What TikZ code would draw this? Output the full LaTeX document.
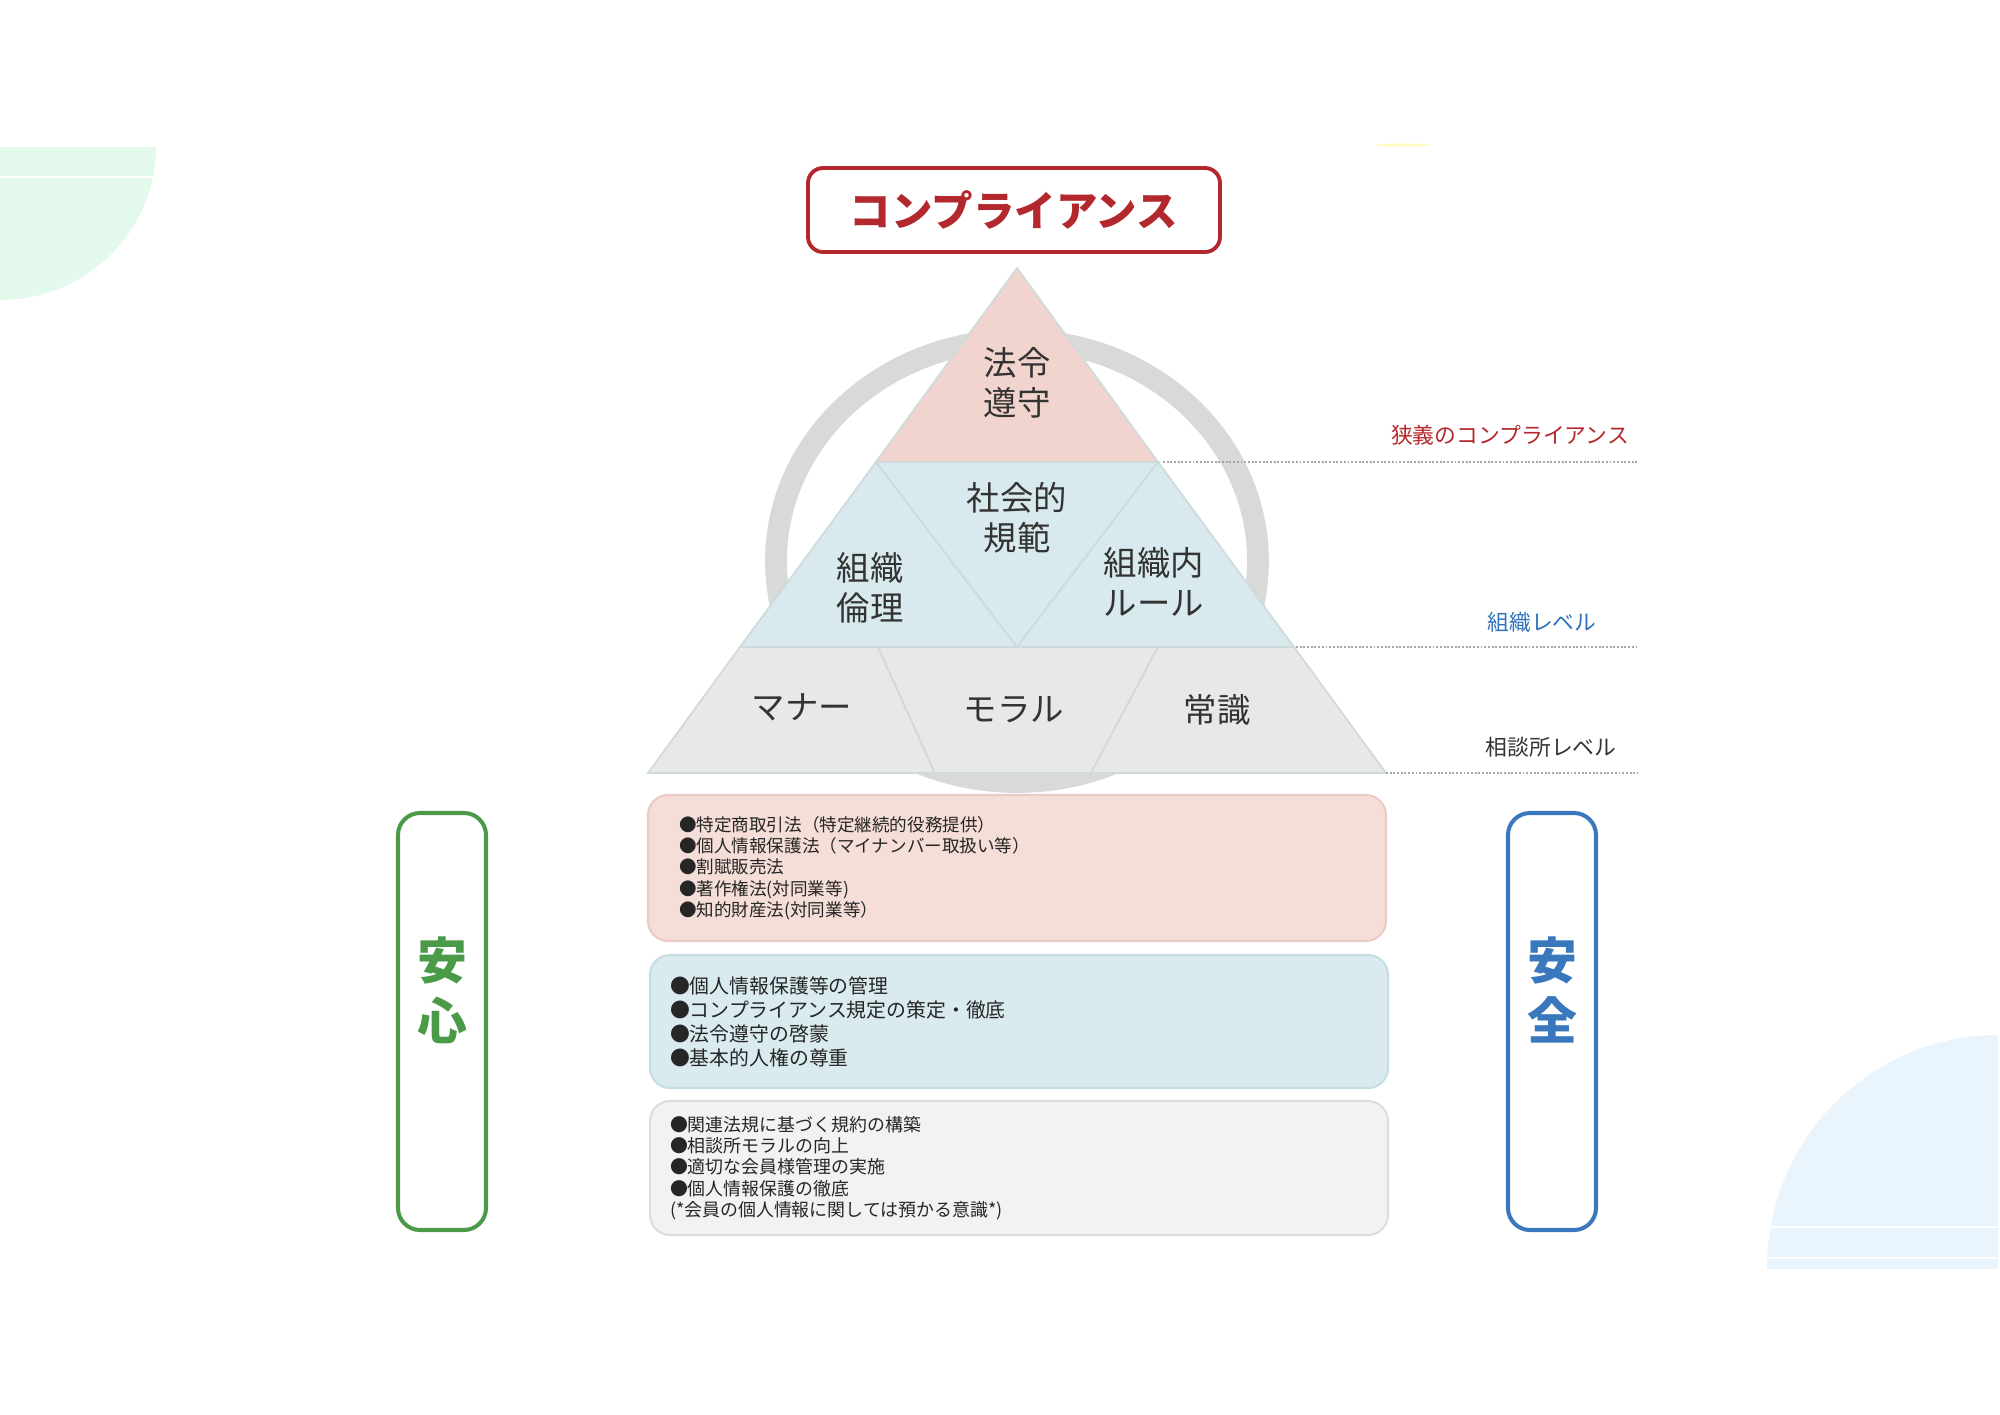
\documentclass[tikz,border=0pt]{standalone}
\usepackage{fontspec}
\setmainfont{Noto Sans CJK JP}
\definecolor{lawpink}{HTML}{F2D4CF}
\definecolor{orgblue}{HTML}{D8EAEE}
\definecolor{basegray}{HTML}{E8E8E8}
\definecolor{edgegray}{HTML}{CFDADC}
\definecolor{ringgray}{HTML}{D9D9D9}
\definecolor{titlered}{HTML}{B3282D}
\definecolor{ansgreen}{HTML}{4A9A48}
\definecolor{anzblue}{HTML}{3A78BE}
\definecolor{lvlblue}{HTML}{2E72BA}
\definecolor{txtgray}{HTML}{333333}
\definecolor{mint}{HTML}{E2F9EC}
\definecolor{sky}{HTML}{EAF4FD}
\definecolor{boxpink}{HTML}{F5DDD8}
\definecolor{boxpinkline}{HTML}{EDCBC5}
\definecolor{boxblue}{HTML}{DAEBEF}
\definecolor{boxblueline}{HTML}{C6DDE3}
\definecolor{boxgray}{HTML}{F2F2F2}
\definecolor{boxgrayline}{HTML}{DEDEDE}
\begin{document}
\begin{tikzpicture}[
  x = 1cm, y = -1cm,
  every node/.style = {inner sep = 0pt, align = center, text = txtgray,
    font = \fontsize{9.5}{11.4}\selectfont},
  piece/.style = {draw = edgegray, line width = 0.5pt},
  levelline/.style = {draw = black!35, line width = 0.6pt,
    dash pattern = on 0.55pt off 0.5pt},
  lvl/.style = {font = \fontsize{6.2}{7}\selectfont},
  infobox/.style = {draw, line width = 0.6pt, rounded corners = 0.2cm,
    inner xsep = 0.2cm, text width = 6.98cm, align = left, text = black!85},
  sidebox/.style = {draw, line width = 1.15pt, rounded corners = 0.22cm,
    minimum width = 0.88cm, minimum height = 4.17cm},
  sidetext/.style = {font = \fontsize{14.2}{17}\selectfont\bfseries}
  ]
  \useasboundingbox (0,0) rectangle (20,14.14);
  \begin{scope}
    \clip (0,1.47) rectangle (1.6,3.05);
    \fill[mint] (0,1.47) ellipse [x radius = 1.56cm, y radius = 1.53cm];
  \end{scope}
  \draw[white, line width = 0.8pt] (0,1.77) -- (1.6,1.77);
  \begin{scope}
    \clip (17.6,10.3) rectangle (19.98,12.68);
    \fill[sky] (19.98,12.68) ellipse [x radius = 2.31cm, y radius = 2.33cm];
  \end{scope}
  \draw[white, line width = 0.8pt] (17.6,12.27) -- (20,12.27);
  \draw[white, line width = 0.8pt] (17.6,12.58) -- (20,12.58);
  \fill[yellow, opacity = 0.25] (14.03,1.45) ellipse [x radius = 0.28cm, y radius = 0.015cm];

  \draw[ringgray, line width = 6.2pt] (10.17,5.61) ellipse [x radius = 2.41cm, y radius = 2.21cm];

  \coordinate (apex) at (10.17,2.68);
  \coordinate (ul) at (8.76,4.62);
  \coordinate (ur) at (11.58,4.62);
  \coordinate (ml) at (7.40,6.47);
  \coordinate (mc) at (10.17,6.47);
  \coordinate (mr) at (12.94,6.47);
  \coordinate (dl) at (8.78,6.47);
  \coordinate (dr) at (11.58,6.47);
  \coordinate (bl) at (6.48,7.73);
  \coordinate (el) at (9.35,7.73);
  \coordinate (er) at (10.91,7.73);
  \coordinate (br) at (13.86,7.73);
  \filldraw[piece, fill = lawpink] (apex) -- (ul) -- (ur) -- cycle;
  \filldraw[piece, fill = orgblue] (ul) -- (ml) -- (mc) -- cycle;
  \filldraw[piece, fill = orgblue] (ul) -- (ur) -- (mc) -- cycle;
  \filldraw[piece, fill = orgblue] (ur) -- (mc) -- (mr) -- cycle;
  \filldraw[piece, fill = basegray] (ml) -- (bl) -- (el) -- (dl) -- cycle;
  \filldraw[piece, fill = basegray] (dl) -- (el) -- (er) -- (dr) -- cycle;
  \filldraw[piece, fill = basegray] (dr) -- (er) -- (br) -- (mr) -- cycle;

  \node (hourei) at (10.17,3.83) {法令\\遵守};
  \node (shakai) at (10.17,5.18) {社会的\\規範};
  \node (rinri) at (8.70,5.88) {組織\\倫理};
  \node (rule) at (11.54,5.82) {組織内\\ルール};
  \node (manner) at (8.02,7.07) {マナー};
  \node (moral) at (10.14,7.10) {モラル};
  \node (joushiki) at (12.17,7.10) {常識};

  \node[draw = titlered, line width = 1.1pt, rounded corners = 0.15cm,
    minimum width = 4.12cm, minimum height = 0.84cm, text = titlered,
    font = \fontsize{11.8}{14}\selectfont\bfseries] (title) at (10.14,2.10) {コンプライアンス};

  \coordinate (end1) at (16.38,4.62);
  \coordinate (end2) at (16.38,6.47);
  \coordinate (end3) at (16.38,7.73);
  \draw[levelline, shorten < = 0.05cm] (ur) -- (end1);
  \draw[levelline, shorten < = 0.02cm] (mr) -- (end2);
  \draw[levelline] (br) -- (end3);
  \node[lvl, text = titlered] (narrow) at (15.10,4.35) {狭義のコンプライアンス};
  \node[lvl, text = lvlblue] (orglvl) at (15.42,6.22) {組織レベル};
  \node[lvl] (shoplvl) at (15.51,7.47) {相談所レベル};

  \node[infobox, fill = boxpink, draw = boxpinkline, inner xsep = 0.31cm,
    text width = 6.76cm, minimum height = 1.46cm,
    font = \fontsize{5}{6.06}\selectfont] (law) at (10.17,8.68) {●特定商取引法（特定継続的役務提供）\\
    ●個人情報保護法（マイナンバー取扱い等）\\
    ●割賦販売法\\
    ●著作権法(対同業等)\\
    ●知的財産法(対同業等）};
  \node[infobox, fill = boxblue, draw = boxblueline, minimum height = 1.33cm,
    font = \fontsize{5.65}{6.83}\selectfont] (org) at (10.19,10.215) {●個人情報保護等の管理\\
    ●コンプライアンス規定の策定・徹底\\
    ●法令遵守の啓蒙\\
    ●基本的人権の尊重};
  \node[infobox, fill = boxgray, draw = boxgrayline, minimum height = 1.34cm,
    font = \fontsize{5.1}{6.06}\selectfont] (shop) at (10.19,11.68) {●関連法規に基づく規約の構築\\
    ●相談所モラルの向上\\
    ●適切な会員様管理の実施\\
    ●個人情報保護の徹底\\
    (*会員の個人情報に関しては預かる意識*)};

  \node[sidebox, draw = ansgreen] (anshin) at (4.42,10.215) {};
  \node[sidetext, text = ansgreen] (anshintxt) at (4.42,9.90) {安\\心};
  \node[sidebox, draw = anzblue] (anzen) at (15.52,10.215) {};
  \node[sidetext, text = anzblue] (anzentxt) at (15.52,9.90) {安\\全};
\end{tikzpicture}
\end{document}
